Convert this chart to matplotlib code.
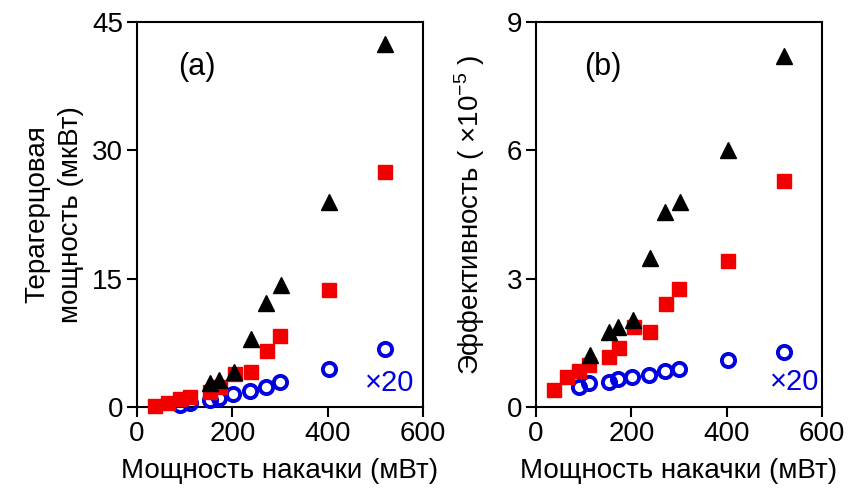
import matplotlib
matplotlib.use("Agg")
import matplotlib.pyplot as plt

plt.rcParams['font.family'] = ['Liberation Sans', 'DejaVu Sans']
plt.rcParams['mathtext.fontset'] = 'custom'
plt.rcParams['mathtext.rm'] = 'Liberation Sans'

# pump power (mW)
pump_red = [38, 66, 90, 112, 153, 174, 205, 239, 272, 301, 402, 520]
pump_black_a = [154, 172, 204, 239, 271, 302, 402, 520]
pump_black_b = [113, 154, 172, 204, 239, 271, 302, 402, 520]
pump_blue = [90, 112, 153, 173, 201, 238, 271, 301, 402, 520]

# panel (a): THz power (uW)
power_red = [0.1, 0.45, 0.9, 1.2, 1.8, 2.3, 3.9, 4.1, 6.5, 8.3, 13.7, 27.5]
power_black = [2.8, 3.15, 4.1, 8.0, 12.1, 14.3, 24.0, 42.4]
power_blue = [0.23, 0.43, 0.85, 1.05, 1.55, 1.9, 2.35, 2.89, 4.44, 6.74]

# panel (b): efficiency (x1e-5)
eff_red = [0.40, 0.71, 0.83, 0.98, 1.16, 1.37, 1.88, 1.76, 2.41, 2.75, 3.41, 5.29]
eff_black = [1.22, 1.76, 1.88, 2.03, 3.48, 4.57, 4.80, 6.01, 8.21]
eff_blue = [0.46, 0.55, 0.59, 0.66, 0.71, 0.74, 0.83, 0.88, 1.10, 1.28]

xticks = [0, 200, 400, 600]
yticks_a = [0, 15, 30, 45]
yticks_b = [0, 3, 6, 9]

RED = '#f20000'
BLUE = '#0000e0'
FS = 20

fig = plt.figure(figsize=(8.63, 4.97), dpi=100)
axa = fig.add_axes([137/863, 90/497, 286/863, 385/497])
axb = fig.add_axes([536/863, 90/497, 286/863, 385/497])

def style(ax, yticks):
    ax.set_xlim(0, 600)
    ax.set_ylim(yticks[0], yticks[-1])
    ax.set_xticks(xticks)
    ax.set_yticks(yticks)
    for s in ax.spines.values():
        s.set_linewidth(1.5)
    ax.tick_params(direction='out', length=7, width=1.5, labelsize=FS, pad=3)

def draw(ax, xr, yr, xb, yb, xu, yu):
    ax.plot(xu, yu, 'o', ls='none', mfc='none', mec=BLUE, mew=2.8, ms=9.5, clip_on=False, zorder=3)
    ax.plot(xr, yr, 's', ls='none', color=RED, ms=10, clip_on=False, zorder=4)
    ax.plot(xb, yb, '^', ls='none', color='black', ms=11.5, clip_on=False, zorder=5)

draw(axa, pump_red, power_red, pump_black_a, power_black, pump_blue, power_blue)
draw(axb, pump_red, eff_red, pump_black_b, eff_black, pump_blue, eff_blue)
style(axa, yticks_a)
style(axb, yticks_b)

axa.set_xlabel('Мощность накачки (мВт)', fontsize=FS, labelpad=8)
axb.set_xlabel('Мощность накачки (мВт)', fontsize=FS, labelpad=8)
axa.set_ylabel('Терагерцовая\nмощность (мкВт)', fontsize=FS, labelpad=6, linespacing=1.35)
axb.set_ylabel('Эффективность ( $\\times10^{-5}$ )', fontsize=FS, labelpad=14)

axa.text(0.209, 0.884, '(a)', transform=axa.transAxes, fontsize=22, ha='center', va='center')
axb.text(0.233, 0.884, '(b)', transform=axb.transAxes, fontsize=22, ha='center', va='center')
axa.text(0.885, 0.062, '×20', transform=axa.transAxes, fontsize=21, color=BLUE, ha='center', va='center')
axb.text(0.906, 0.066, '×20', transform=axb.transAxes, fontsize=21, color=BLUE, ha='center', va='center')

fig.savefig('out.png', dpi=100)
